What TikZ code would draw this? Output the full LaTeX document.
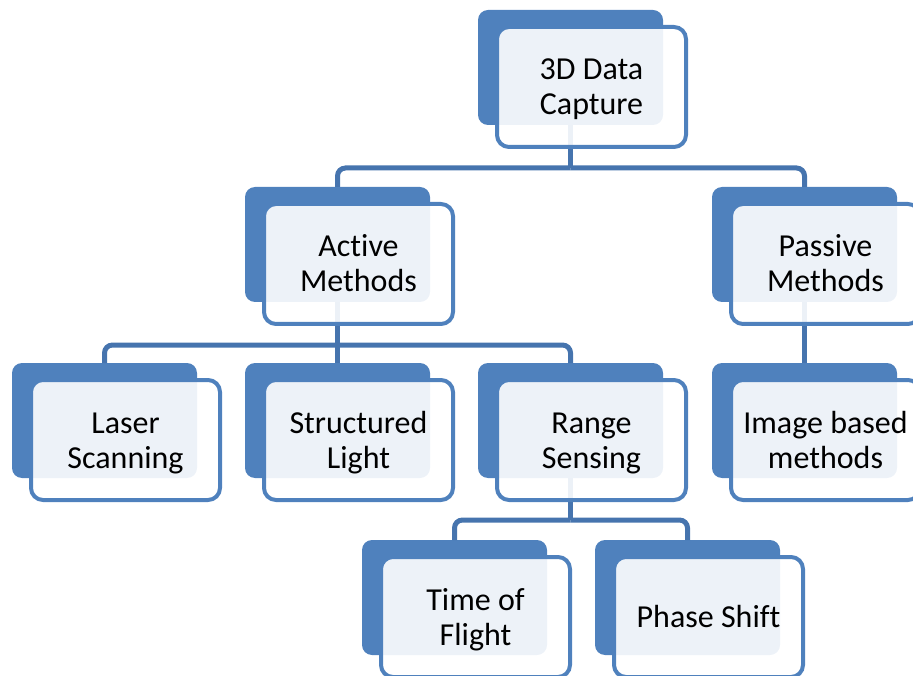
\documentclass[tikz,border=0pt]{standalone}
\usepackage{fontspec}
\setmainfont{Carlito}[Ligatures=NoCommon]
\definecolor{boxblue}{HTML}{4F81BD}
\definecolor{linkblue}{HTML}{4674AE}
\newcommand{\toprow}{\rule{0pt}{34pt}}

\begin{document}
\begin{tikzpicture}[x=1pt,y=-1pt,
  back/.style={rectangle,fill=boxblue,rounded corners=10pt,minimum width=185pt,minimum height=115pt,inner sep=0pt,outer sep=0pt,anchor=north west},
  front/.style={rectangle,draw=boxblue,line width=4pt,fill=white,fill opacity=0.9,text opacity=1,rounded corners=12pt,minimum width=189pt,minimum height=120pt,inner sep=0pt,outer sep=0pt,anchor=north west,align=center,font=\fontsize{32}{35}\selectfont,
    execute at end node={\rule[-13pt]{0pt}{0pt}}},
  link/.style={draw=linkblue,line width=5pt}]
\useasboundingbox (0,0) rectangle (913,676);
\clip (0,0) rectangle (913,676);
% back boxes
\node[back] (b3d) at (478,10) {};
\node[back] (bact) at (245,187) {};
\node[back] (bpas) at (712,187) {};
\node[back] (blas) at (12,363) {};
\node[back] (bstr) at (245,363) {};
\node[back] (bran) at (478,363) {};
\node[back] (bimg) at (712,363) {};
\node[back] (btof) at (362,540) {};
\node[back] (bpha) at (595,540) {};
% connectors
\draw[link] (b3d.south) -- ++(0,43) coordinate (j3d);
\draw[link,rounded corners=8pt] (j3d) -| (bact.north);
\draw[link,rounded corners=8pt] (j3d) -| (bpas.north);
\draw[link] (bact.south) -- ++(0,43) coordinate (jact);
\draw[link,rounded corners=8pt] (jact) -| (blas.north);
\draw[link] (jact) -- (bstr.north);
\draw[link,rounded corners=8pt] (jact) -| (bran.north);
\draw[link] (bpas.south) -- (bimg.north);
\draw[link] (bran.south) -- ++(0,42) coordinate (jran);
\draw[link,rounded corners=8pt] (jran) -| (btof.north);
\draw[link,rounded corners=8pt] (jran) -| (bpha.north);
% front boxes
\node[front] (f3d) at ([shift={(19,17)}]b3d.north west) {\toprow 3D Data\\Capture};
\node[front] (fact) at ([shift={(19,17)}]bact.north west) {\toprow Act\kern0pt ive\\Methods};
\node[front] (fpas) at ([shift={(19,17)}]bpas.north west) {\toprow Passive\\Methods};
\node[front] (flas) at ([shift={(19,17)}]blas.north west) {\toprow Laser\\Scanning};
\node[front] (fstr) at ([shift={(19,17)}]bstr.north west) {\toprow Structured\\Light};
\node[front] (fran) at ([shift={(19,17)}]bran.north west) {\toprow Range\\Sensing};
\node[front] (fimg) at ([shift={(19,17)}]bimg.north west) {\toprow Image based\\methods};
\node[front] (ftof) at ([shift={(19,17)}]btof.north west) {\toprow Time of\\Flight};
\node[front] (fpha) at ([shift={(19,17)}]bpha.north west) {\toprow Phase Shift};
\end{tikzpicture}
\end{document}
